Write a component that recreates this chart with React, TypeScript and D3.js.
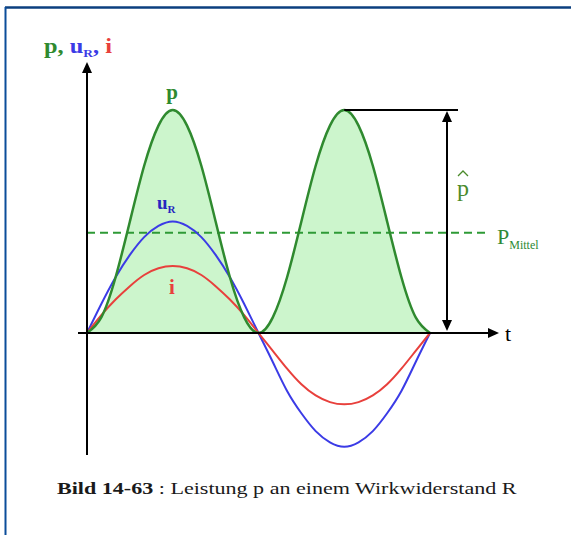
import React, { useEffect, useRef } from "react";
import * as d3 from "d3";

// Phase of one full period of the voltage, sampled every 15°
const phase = [0, 15, 30, 45, 60, 75, 90, 105, 120, 135, 150, 165, 180,
  195, 210, 225, 240, 255, 270, 285, 300, 315, 330, 345, 360];
// Instantaneous power p (relative to its peak value p̂)
const pValues = [0, 0.07, 0.25, 0.5, 0.75, 0.93, 1, 0.93, 0.75, 0.5, 0.25, 0.07, 0,
  0.07, 0.25, 0.5, 0.75, 0.93, 1, 0.93, 0.75, 0.5, 0.25, 0.07, 0];
// Voltage across the resistor u_R
const uValues = [0, 0.13, 0.25, 0.35, 0.43, 0.48, 0.5, 0.48, 0.43, 0.35, 0.25, 0.13, 0,
  -0.13, -0.26, -0.36, -0.44, -0.49, -0.51, -0.49, -0.44, -0.36, -0.26, -0.13, 0];
// Current i
const iValues = [0, 0.08, 0.15, 0.21, 0.26, 0.29, 0.3, 0.29, 0.26, 0.21, 0.15, 0.08, 0,
  -0.08, -0.16, -0.23, -0.28, -0.31, -0.32, -0.31, -0.28, -0.23, -0.16, -0.08, 0];
// Mean power level
const pMittel = [0.45];

const W = 571;
const H = 535;

const GREEN = "#2f8a2f";
const FILL = "#ccf5cc";
const BLUE = "#3b3be6";
const RED = "#e8403c";
const SERIF = "Liberation Serif, Times New Roman, Times, serif";

export default function App() {
  const capRef = useRef<SVGTextElement>(null);
  const axisLabelRef = useRef<SVGTextElement>(null);

  const x = d3.scaleLinear().domain([0, 360]).range([87, 430]);
  const y = d3.scaleLinear().domain([0, 1]).range([333, 110]);

  const pts = (vals: number[]) => phase.map((ph, k) => [ph, vals[k]] as [number, number]);

  const line = d3.line<[number, number]>()
    .x((d) => x(d[0]))
    .y((d) => y(d[1]))
    .curve(d3.curveNatural);
  const area = d3.area<[number, number]>()
    .x((d) => x(d[0]))
    .y0(y(0))
    .y1((d) => y(d[1]))
    .curve(d3.curveNatural);

  const x0 = x(0);
  const y0 = y(0);
  const yTop = y(1);
  const dimX = 447;

  useEffect(() => {
    // stretch texts horizontally to their set widths
    const fit = (el: SVGTextElement | null, tx: number, ty: number, target: number) => {
      if (!el) return;
      const len = el.getComputedTextLength();
      if (len > 0) d3.select(el).attr("transform", `translate(${tx},${ty}) scale(${target / len},1)`);
    };
    fit(capRef.current, 57, 494, 460);
    fit(axisLabelRef.current, 44, 53, 68);
  }, []);

  return (
    <svg width={W} height={H} style={{ position: "absolute", left: 0, top: 0 }}>
      <rect x={0} y={0} width={W} height={H} fill="#ffffff" />
      {/* frame */}
      <line x1={5} y1={7.5} x2={W} y2={7.5} stroke="#0b3f7f" strokeWidth={2.5} />
      <line x1={5.5} y1={7} x2={5.5} y2={H} stroke="#0b4d9a" strokeWidth={2} />

      {/* power area and curves */}
      <path d={area(pts(pValues)) ?? ""} fill={FILL} />
      <line x1={x0} y1={y(pMittel[0])} x2={490} y2={y(pMittel[0])}
        stroke="#2e9a36" strokeWidth={2} strokeDasharray="8,5" />
      <path d={line(pts(uValues)) ?? ""} fill="none" stroke={BLUE} strokeWidth={2} />
      <path d={line(pts(iValues)) ?? ""} fill="none" stroke={RED} strokeWidth={2} />
      <path d={line(pts(pValues)) ?? ""} fill="none" stroke={GREEN} strokeWidth={2.5} />

      {/* axes */}
      <line x1={78} y1={y0} x2={492} y2={y0} stroke="#000" strokeWidth={2} />
      <path d={`M${499},${y0} L${488},${y0 - 5} L${488},${y0 + 5} Z`} fill="#000" />
      <line x1={x0} y1={455} x2={x0} y2={70} stroke="#000" strokeWidth={2} />
      <path d={`M${x0},${62} L${x0 - 5},${73} L${x0 + 5},${73} Z`} fill="#000" />

      {/* p-hat dimension */}
      <line x1={x(270)} y1={yTop} x2={458} y2={yTop} stroke="#000" strokeWidth={2} />
      <line x1={dimX} y1={yTop + 8} x2={dimX} y2={y0 - 8} stroke="#000" strokeWidth={2} />
      <path d={`M${dimX},${yTop + 1} L${dimX - 5},${yTop + 12} L${dimX + 5},${yTop + 12} Z`} fill="#000" />
      <path d={`M${dimX},${y0 - 2} L${dimX - 5},${y0 - 13} L${dimX + 5},${y0 - 13} Z`} fill="#000" />

      {/* axis labels */}
      <text ref={axisLabelRef} x={0} y={0} transform="translate(44,53)" fontFamily={SERIF} fontWeight="bold" fontSize={20}>
        <tspan fill={GREEN}>p, </tspan>
        <tspan fill={BLUE}>u</tspan>
        <tspan fill={BLUE} fontSize={11} dy={4}>R</tspan>
        <tspan fill={BLUE} dy={-4}>, </tspan>
        <tspan fill={RED}>i</tspan>
      </text>
      <text x={505} y={341} fontFamily={SERIF} fontSize={22} fill="#000">t</text>

      {/* curve labels */}
      <text x={172} y={99} textAnchor="middle" fontFamily={SERIF} fontWeight="bold" fontSize={21} fill={GREEN}>p</text>
      <text x={157} y={209} fontFamily={SERIF} fontWeight="bold" fontSize={19} fill="#2626c0">
        u<tspan fontSize={11} dy={4}>R</tspan>
      </text>
      <text x={172} y={294} textAnchor="middle" fontFamily={SERIF} fontWeight="bold" fontSize={21} fill={RED}>i</text>

      {/* p-hat and mean power labels */}
      <text x={463} y={196} textAnchor="middle" fontFamily={SERIF} fontSize={24} fill="#4a8a2a">p</text>
      <path d="M458,176 L463,171 L468,176" fill="none" stroke="#4a8a2a" strokeWidth={1.3} />
      <text x={497} y={244} fontFamily={SERIF} fontSize={22} fill="#2e8a36">
        P<tspan fontSize={12} dy={5}>Mittel</tspan>
      </text>

      {/* caption */}
      <text ref={capRef} x={0} y={0} transform="translate(57,494)" fontFamily={SERIF} fontSize={17} fill="#1a1a1a">
        <tspan fontWeight="bold">Bild 14-63</tspan>
        <tspan> : Leistung p an einem Wirkwiderstand R</tspan>
      </text>
    </svg>
  );
}
